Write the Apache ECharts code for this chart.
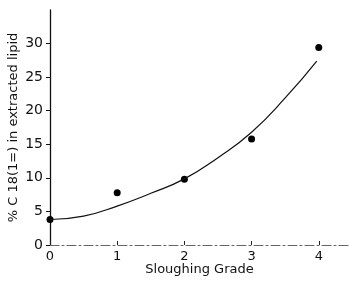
<!DOCTYPE html>
<html lang="en">
<head>
    <meta charset="UTF-8">
    <title>Sloughing grade</title>
    <script type="text/javascript" src="https://cdn.jsdelivr.net/npm/echarts@6/dist/echarts.min.js"></script>
    <style>
        body { margin: 0; background: #fff; }
    </style>
</head>
<body>
    <div id="chart" style="width:349px;height:287px;"></div>
<script>
// measured points
var grades = [0, 1, 2, 3, 4];
var measured = [3.8, 7.8, 9.8, 15.8, 29.4];

// fitted curve
var fitX = [0, 0.5, 1, 1.5, 2, 2.5, 3, 3.5, 3.97];
var fitY = [3.8, 4.3, 5.8, 7.7, 9.85, 13.0, 16.8, 21.9, 27.4];

var xTicks = [0, 1, 2, 3, 4];
var yTicks = [0, 5, 10, 15, 20, 25, 30];

var myChart = echarts.init(document.getElementById("chart"));

var font = 'DejaVu Sans';

var option = {
    backgroundColor: '#ffffff',
    animation: false,
    grid: { left: 50, right: 0, top: 10, bottom: 42, outerBoundsMode: 'none', containLabel: false },
    xAxis: {
        type: 'value',
        min: 0,
        max: 4.45,
        interval: 1,
        name: 'Sloughing Grade',
        nameLocation: 'middle',
        nameGap: 18,
        nameMoveOverlap: false,
        nameTextStyle: { fontFamily: font, fontSize: 13, color: '#111' },
        axisLine: { lineStyle: { color: '#666', width: 1, type: [9, 3, 2, 3] } },
        axisTick: { inside: true, length: 4, customValues: xTicks, lineStyle: { color: '#222' } },
        axisLabel: { customValues: xTicks, fontFamily: font, fontSize: 13, color: '#111', margin: 5 },
        splitLine: { show: false }
    },
    yAxis: {
        type: 'value',
        min: 0,
        max: 35,
        interval: 5,
        name: '% C 18(1=) in extracted lipid',
        nameLocation: 'middle',
        nameGap: 30,
        nameMoveOverlap: false,
        nameRotate: 90,
        nameTextStyle: { fontFamily: font, fontSize: 13, color: '#111' },
        axisLine: { lineStyle: { color: '#111', width: 1.3 } },
        axisTick: { length: 4, customValues: yTicks, lineStyle: { color: '#111' } },
        axisLabel: { customValues: yTicks, fontFamily: font, fontSize: 14, color: '#111', margin: 7 },
        splitLine: { show: false }
    },
    series: [{
        type: 'line',
        smooth: 0.5,
        symbol: 'none',
        lineStyle: { color: '#111', width: 1.2 },
        data: fitX.map(function (x, i) { return [x, fitY[i]]; })
    }, {
        type: 'scatter',
        symbolSize: 7,
        itemStyle: { color: '#000', opacity: 1 },
        data: grades.map(function (g, i) { return [g, measured[i]]; })
    }]
};

myChart.setOption(option);
</script>
</body>
</html>
